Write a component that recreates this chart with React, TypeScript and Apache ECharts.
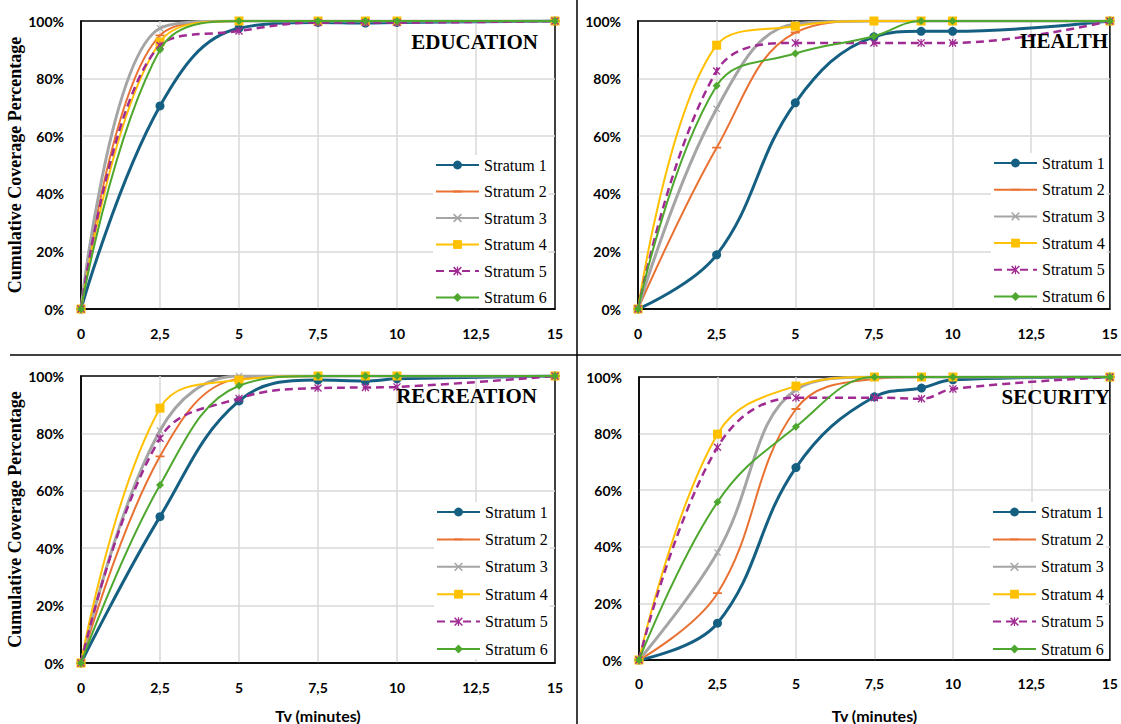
import React, { useEffect, useRef } from "react";
import * as echarts from "echarts";

const xValues = [0, 2.5, 5, 7.5, 9, 10, 15];
const strata = ["Stratum 1", "Stratum 2", "Stratum 3", "Stratum 4", "Stratum 5", "Stratum 6"];
const panelTitles = ["EDUCATION", "HEALTH", "RECREATION", "SECURITY"];

const education = [
  [0, 70.5, 97.5, 99.5, 99.3, 99.5, 100],
  [0, 95, 100, 100, 100, 100, 100],
  [0, 97.5, 100, 100, 100, 100, 100],
  [0, 92.7, 100, 100, 100, 100, 100],
  [0, 91.5, 96.5, 99.5, 99.5, 99.5, 100],
  [0, 90, 100, 100, 100, 100, 100],
];
const health = [
  [0, 18.8, 71.6, 94.5, 96.4, 96.4, 100],
  [0, 56, 96, 100, 100, 100, 100],
  [0, 69.5, 99, 100, 100, 100, 100],
  [0, 91.6, 98.2, 100, 100, 100, 100],
  [0, 82.6, 92.4, 92.4, 92.4, 92.4, 100],
  [0, 77.5, 88.7, 94.7, 100, 100, 100],
];
const recreation = [
  [0, 51, 91.3, 98.6, 98.3, 99, 100],
  [0, 72, 99, 100, 100, 100, 100],
  [0, 81, 100, 100, 100, 100, 100],
  [0, 88.8, 98.6, 100, 100, 100, 100],
  [0, 78.3, 92.2, 95.8, 96, 96.2, 100],
  [0, 62, 96.6, 100, 100, 100, 100],
];
const security = [
  [0, 13, 68, 93, 96.1, 99, 100],
  [0, 23.6, 88.7, 99.3, 100, 100, 100],
  [0, 38, 95.5, 100, 100, 100, 100],
  [0, 79.8, 96.8, 100, 100, 100, 100],
  [0, 75.2, 92.7, 92.7, 92.3, 95.8, 100],
  [0, 55.8, 82.4, 100, 100, 100, 100],
];
const panelData = [education, health, recreation, security];

const colors = ["#156082", "#E97132", "#A5A5A5", "#FFC000", "#A02B93", "#4EA72E"];
const DASH = "path://M0,0L0.01,0L0,0.01Z M0,4L10,4L10,6L0,6Z M10,10L9.99,10L10,9.99Z";
const XMARK = "path://M0,1.2L1.2,0L10,8.8L8.8,10Z M8.8,0L10,1.2L1.2,10L0,8.8Z";
const STAR = "path://M0,1.2L1.2,0L10,8.8L8.8,10Z M8.8,0L10,1.2L1.2,10L0,8.8Z M4.3,0L5.7,0L5.7,10L4.3,10Z";
const symbols = ["circle", DASH, XMARK, "rect", STAR, "diamond"];
const symbolSizes = [9, 9, 7, 9, 8, 8];
const lineWidths = [3, 2, 3, 2, 2.5, 2];

const grids = [
  { left: 81, top: 21, width: 474, height: 288 },
  { left: 638, top: 21, width: 474, height: 288 },
  { left: 81, top: 376, width: 474, height: 295 },
  { left: 639, top: 377, width: 473, height: 291 },
];
const legendPos = [
  { left: 433, top: 155, gap: 10.5 },
  { left: 991, top: 153, gap: 10.7 },
  { left: 434, top: 502, gap: 11.4 },
  { left: 990, top: 502, gap: 11.4 },
];
const titlePos = [
  { x: 538, y: 42 },
  { x: 1108, y: 41 },
  { x: 537, y: 396 },
  { x: 1110, y: 397 },
];

const SERIF = "Liberation Serif";

export default function App() {
  const ref = useRef<HTMLDivElement>(null);
  useEffect(() => {
    document.body.style.margin = "0";
    if (!ref.current) return;
    const chart = echarts.init(ref.current, undefined, { renderer: "svg" });
    const tickFont = { fontFamily: "Lato", fontWeight: "bold" as const, fontSize: 14, color: "#000" };
    const xAxis = grids.map((_, i) => ({
      gridIndex: i,
      type: "value",
      min: 0,
      max: 15,
      interval: 2.5,
      name: i >= 2 ? "Tv (minutes)" : "",
      nameLocation: "middle",
      nameGap: i === 2 ? 44 : 47,
      nameTextStyle: { fontFamily: "Lato", fontWeight: "bold", fontSize: 16, color: "#000" },
      axisLine: { show: true, onZero: false, lineStyle: { color: "#000", width: 1.5 } },
      axisTick: { show: false },
      splitLine: { show: true, showMinLine: false, showMaxLine: false, lineStyle: { color: "#d9d9d9", width: 1.5 } },
      axisLabel: { ...tickFont, margin: i === 3 ? 16 : 17, formatter: (v: number) => String(v).replace(".", ",") },
    }));
    const yAxis = grids.map((_, i) => ({
      gridIndex: i,
      type: "value",
      min: 0,
      max: 100,
      interval: 20,
      name: i % 2 === 0 ? "Cumulative Coverage Percentage" : "",
      nameLocation: "middle",
      nameGap: 57,
      nameRotate: 90,
      nameTextStyle: { fontFamily: SERIF, fontWeight: "bold", fontSize: 18, color: "#000" },
      axisLine: { show: true, onZero: false, lineStyle: { color: "#000", width: 1.5 } },
      axisTick: { show: false },
      splitLine: { show: true, showMinLine: false, showMaxLine: false, lineStyle: { color: "#d9d9d9", width: 1.5 } },
      axisLabel: { ...tickFont, margin: 17, formatter: "{value}%" },
    }));
    const series: any[] = [];
    panelData.forEach((panel, p) => {
      panel.forEach((vals, s) => {
        series.push({
          type: "line",
          name: strata[s],
          xAxisIndex: p,
          yAxisIndex: p,
          data: vals.map((v, k) => [xValues[k], v]),
          smooth: 0.4,
          symbol: symbols[s],
          symbolSize: symbolSizes[s],
          showAllSymbol: true,
          color: colors[s],
          itemStyle: { color: colors[s], borderWidth: 0 },
          lineStyle: { color: colors[s], width: lineWidths[s], type: s === 4 ? [8, 5] : "solid" },
          z: 2 + s,
          emphasis: { disabled: true },
        });
      });
    });
    const legend = legendPos.map((l) => ({
      orient: "vertical",
      left: l.left,
      top: l.top,
      itemGap: l.gap,
      itemWidth: 43,
      itemHeight: 11,
      padding: 2,
      backgroundColor: "#fff",
      selectedMode: false,
      data: strata.map((n) => ({ name: n, textStyle: { fontFamily: SERIF, fontSize: 16, color: "#000" } })),
      textStyle: { fontFamily: SERIF, fontSize: 16, lineHeight: 16, color: "#000", fontWeight: "normal" },
    }));
    const graphic: any[] = [
      { type: "line", shape: { x1: 577, y1: 0, x2: 577, y2: 724 }, style: { stroke: "#000", lineWidth: 1.5 }, z: 100 },
      { type: "line", shape: { x1: 10, y1: 355, x2: 1121, y2: 355 }, style: { stroke: "#000", lineWidth: 1.5 }, z: 100 },
      ...panelTitles.map((t, i) => ({
        type: "text",
        x: titlePos[i].x,
        y: titlePos[i].y,
        z: 100,
        style: {
          text: t,
          fontFamily: SERIF,
          fontWeight: "bold",
          fontSize: 21,
          fill: "#000",
          align: "right",
          verticalAlign: "middle",
        },
      })),
    ];
    chart.setOption({
      animation: false,
      backgroundColor: "#fff",
      textStyle: { fontFamily: SERIF },
      grid: grids.map((g) => ({ ...g, show: true, borderColor: "#000", borderWidth: 1.5, backgroundColor: "transparent" })),
      xAxis,
      yAxis,
      legend,
      series,
      graphic,
    });
    return () => chart.dispose();
  }, []);
  return <div ref={ref} style={{ width: 1121, height: 724 }} />;
}
